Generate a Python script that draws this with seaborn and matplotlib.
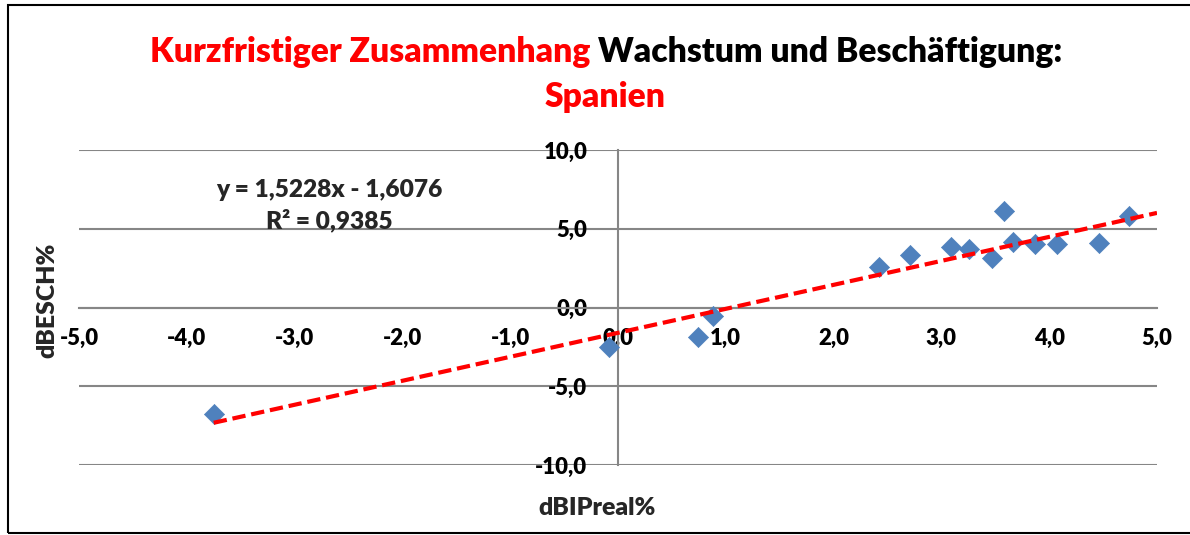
import numpy as np
import pandas as pd
import matplotlib
matplotlib.use("Agg")
import matplotlib.pyplot as plt
import seaborn as sns
from matplotlib import font_manager as fm
from matplotlib.patches import Rectangle

# ---------------- data ----------------
x_bip = [-3.75, -0.08, 0.74, 0.88, 2.42, 2.71, 3.09, 3.26, 3.47, 3.58, 3.66, 3.87, 4.07, 4.46, 4.74]
y_besch = [-6.75, -2.48, -1.90, -0.51, 2.55, 3.35, 3.87, 3.71, 3.14, 6.10, 4.15, 4.03, 4.03, 4.09, 5.82]
trend_slope = 1.5228
trend_intercept = -1.6076
r_squared = 0.9385
trend_x_end = 5.0
x_ticks = [-5, -4, -3, -2, -1, 0, 1, 2, 3, 4, 5]
y_ticks = [-10, -5, 0, 5, 10]
title_red = "Kurzfristiger Zusammenhang"
title_black = "Wachstum und Beschäftigung:"
title_line2 = "Spanien"
x_label = "dBIPreal%"
y_label = "dBESCH%"

W, H = 1190, 535
RED = "#FF0000"
BLUE = "#4F81BD"
GRID = "#868686"
WEIGHT = "heavy"

sns.set_theme(style="white")

def pick_font():
    for fam in ["Liberation Sans Narrow", "Lato", "Liberation Sans"]:
        try:
            fm.findfont(fm.FontProperties(family=fam, weight="bold"), fallback_to_default=False)
            return fam
        except Exception:
            continue
    return "DejaVu Sans"

FONT = pick_font()
plt.rcParams["font.family"] = [FONT, "DejaVu Sans"]

fig = plt.figure(figsize=(W / 100, H / 100), dpi=100)
renderer = fig.canvas.get_renderer()


def width_px(s, size):
    t = fig.text(0, 0, s, fontsize=size, fontweight=WEIGHT)
    w = t.get_window_extent(renderer).width
    t.remove()
    return w


def fit(s, target):
    return 20.0 * target / width_px(s, 20.0)


def fx(px):
    return px / W


def fy(py):
    return 1 - py / H


# ---------------- axes ----------------
ax = fig.add_axes([fx(79), fy(465), (1157 - 79) / W, (465 - 150) / H])
for side in ["top", "right"]:
    ax.spines[side].set_visible(False)
ax.spines["left"].set_position(("data", 0))
ax.spines["bottom"].set_position(("data", 0))
for side in ["left", "bottom"]:
    ax.spines[side].set_color(GRID)
    ax.spines[side].set_linewidth(1.5)
    ax.spines[side].set_zorder(1)

df = pd.DataFrame({"x": x_bip, "y": y_besch})
sns.scatterplot(data=df, x="x", y="y", ax=ax, marker="D", s=105, color=BLUE,
                edgecolor=BLUE, linewidth=0.5, zorder=3)

trend_x = np.array([min(x_bip), trend_x_end])
trend_df = pd.DataFrame({"x": trend_x, "y": trend_slope * trend_x + trend_intercept})
sns.lineplot(data=trend_df, x="x", y="y", ax=ax, color=RED, linewidth=3.0, zorder=4)
ax.lines[-1].set_dashes([3.2, 1.4])

ax.set_xlim(-5, 5)
ax.set_ylim(-10, 10)
ax.set_xlabel("")
ax.set_ylabel("")

tick_size = fit("10,0", 38) * 1.15
ax.set_xticks(x_ticks)
ax.set_xticklabels([f"{v:.1f}".replace(".", ",") for v in x_ticks])
ax.set_yticks(y_ticks)
ax.set_yticklabels([f"{v:.1f}".replace(".", ",") for v in y_ticks])
ax.tick_params(axis="x", length=0, pad=15, colors="black", labelsize=tick_size)
ax.tick_params(axis="y", length=0, pad=22, colors="black", labelsize=tick_size)
for lab in ax.get_xticklabels() + ax.get_yticklabels():
    lab.set_fontweight(WEIGHT)

ax.grid(axis="y", color=GRID, linewidth=1.5)
ax.grid(axis="x", visible=False)
ax.set_axisbelow(True)
ax.patch.set_alpha(0)

# ---------------- texts ----------------
full_title = title_red + " " + title_black
title_size = fit(full_title, 912)
tw = width_px(full_title, title_size)
x0 = 606 - tw / 2
fig.text(fx(x0), fy(62), title_red, color=RED, fontsize=title_size, fontweight=WEIGHT,
         ha="left", va="baseline")
fig.text(fx(x0 + tw), fy(62), title_black, color="black", fontsize=title_size, fontweight=WEIGHT,
         ha="right", va="baseline")
fig.text(fx(605), fy(107), title_line2, color=RED, fontsize=title_size, fontweight=WEIGHT,
         ha="center", va="baseline")

eq_text = f"y = {trend_slope:.4f}x - {abs(trend_intercept):.4f}".replace(".", ",")
r2_text = f"R² = {r_squared:.4f}".replace(".", ",")
eq_size = fit(eq_text, 218) * 1.04
fig.text(fx(329), fy(190), eq_text, fontsize=eq_size, fontweight=WEIGHT, ha="center", va="center")
fig.text(fx(329), fy(220), r2_text, fontsize=eq_size, fontweight=WEIGHT, ha="center", va="center")

lab_size = fit(x_label, 112) * 1.05
fig.text(fx(597), fy(508), x_label, fontsize=lab_size, fontweight=WEIGHT, ha="center", va="center")
fig.text(fx(47), fy(300), y_label, fontsize=lab_size, fontweight=WEIGHT, ha="center", va="center",
         rotation=90)

# outer border
fig.patches.append(Rectangle((fx(8), fy(533)), (1195 - 8) / W, (533 - 5) / H,
                             transform=fig.transFigure, fill=False, ec="black", lw=1.5))

fig.savefig("out.png", dpi=100)
